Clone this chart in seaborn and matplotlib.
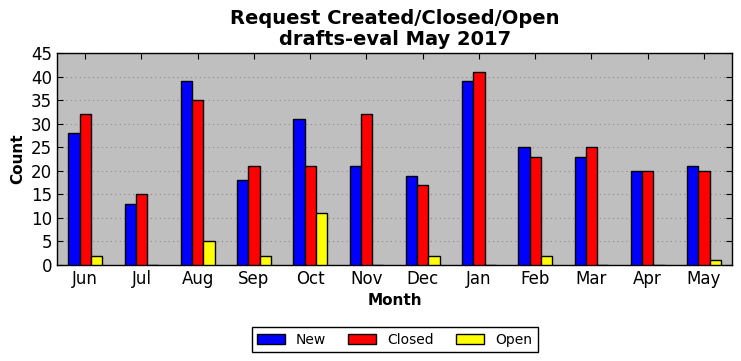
import pandas as pd
import seaborn as sns
from matplotlib import pyplot as plt

months = ['Jun', 'Jul', 'Aug', 'Sep', 'Oct', 'Nov', 'Dec', 'Jan', 'Feb', 'Mar', 'Apr', 'May']
new_counts = [28, 13, 39, 18, 31, 21, 19, 39, 25, 23, 20, 21]
closed_counts = [32, 15, 35, 21, 21, 32, 17, 41, 23, 25, 20, 20]
open_counts = [2, 0, 5, 2, 11, 0, 2, 0, 2, 0, 0, 1]
series_names = ['New', 'Closed', 'Open']
series_colors = ['#0000ff', '#ff0000', '#ffff00']


def build_frame():
    rows = []
    for name, vals in zip(series_names, [new_counts, closed_counts, open_counts]):
        for m, v in zip(months, vals):
            rows.append({'Month': m, 'Count': v, 'Status': name})
    return pd.DataFrame(rows)


def plot_requests():
    df = build_frame()
    plt.rcParams['font.family'] = ['DejaVu Sans']
    fig = plt.figure(figsize=(7.41, 3.61), dpi=100)
    ax = fig.add_axes([0.077, 0.266, 0.911, 0.587])
    ax.set_facecolor('#bfbfbf')
    sns.barplot(data=df, x='Month', y='Count', hue='Status', order=months,
                hue_order=series_names, palette=series_colors, width=0.6,
                edgecolor='black', linewidth=1, saturation=1, errorbar=None,
                ax=ax, zorder=3)
    ax.set_xlim(-0.5, 11.5)
    ax.set_ylim(0, 45)
    ax.set_yticks(range(0, 46, 5))
    ax.yaxis.grid(True, linestyle=(0, (1, 3)), color='#8c8c8c', linewidth=0.8, zorder=0)
    ax.set_axisbelow(True)
    ax.tick_params(direction='in', top=True, right=True, labelsize=12, length=4)
    for s in ax.spines.values():
        s.set_linewidth(1)
        s.set_color('black')
    ax.set_xlabel('Month', fontsize=11, fontweight='bold')
    ax.set_ylabel('Count', fontsize=11, fontweight='bold')
    ax.set_title('Request Created/Closed/Open\ndrafts-eval May 2017', fontsize=14,
                 fontweight='bold', linespacing=1.1)
    ax.legend(loc='upper center', bbox_to_anchor=(0.5, -0.26), ncol=3, fontsize=10,
              frameon=True, fancybox=False, edgecolor='black', framealpha=1,
              columnspacing=1.6, handlelength=2.0, title=None)
    ax.get_legend().get_frame().set_linewidth(1)
    fig.savefig('out.png', dpi=100)


if __name__ == '__main__':
    plot_requests()
